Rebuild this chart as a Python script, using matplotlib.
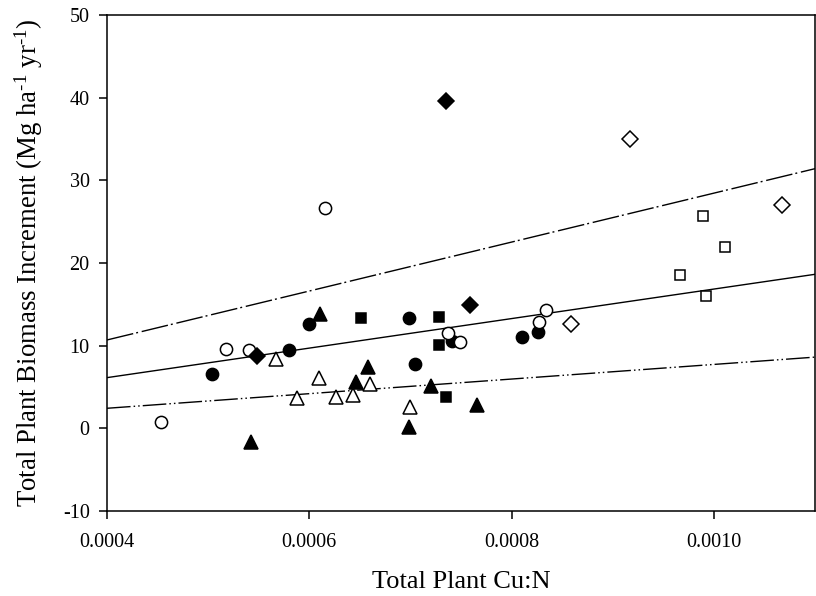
import numpy as np
import matplotlib
matplotlib.use("Agg")
import matplotlib.pyplot as plt

plt.rcParams['font.family'] = ['Liberation Serif', 'DejaVu Serif']
plt.rcParams['mathtext.fontset'] = 'custom'
plt.rcParams['mathtext.rm'] = 'Liberation Serif'
plt.rcParams['mathtext.it'] = 'Liberation Serif:italic'
plt.rcParams['axes.unicode_minus'] = False

# ---- data ----
filled_circle_x = [0.000504, 0.000580, 0.000600, 0.000699, 0.000705, 0.000741, 0.000810, 0.000826]
filled_circle_y = [6.6, 9.45, 12.6, 13.3, 7.8, 10.6, 11.1, 11.6]

open_circle_x = [0.000453, 0.000518, 0.000540, 0.000616, 0.000737, 0.000749, 0.000827, 0.000834]
open_circle_y = [0.75, 9.6, 9.5, 26.6, 11.5, 10.4, 12.9, 14.3]

filled_square_x = [0.000651, 0.000728, 0.000728, 0.000735]
filled_square_y = [13.3, 13.5, 10.05, 3.8]

open_square_x = [0.000989, 0.001011, 0.000967, 0.000992]
open_square_y = [25.7, 21.9, 18.5, 16.0]

filled_diamond_x = [0.000735, 0.000548, 0.000759]
filled_diamond_y = [39.55, 8.7, 14.9]

open_diamond_x = [0.000917, 0.001067, 0.000859]
open_diamond_y = [35.0, 27.0, 12.6]

filled_triangle_x = [0.000542, 0.000611, 0.000658, 0.000646, 0.000720, 0.000699, 0.000766]
filled_triangle_y = [-1.7, 13.8, 7.45, 5.6, 5.1, 0.2, 2.8]

open_triangle_x = [0.000567, 0.000588, 0.000610, 0.000626, 0.000643, 0.000660, 0.000700]
open_triangle_y = [8.35, 3.7, 6.05, 3.8, 4.0, 5.35, 2.6]

# fitted lines: intercept, slope
line_names = ['upper', 'fit', 'lower']
line_intercepts = [-1.15, -1.01, -1.11]
line_slopes = [29600.0, 17857.0, 8840.0]

x_ticks = [0.0004, 0.0006, 0.0008, 0.0010]
x_tick_labels = ['0.0004', '0.0006', '0.0008', '0.0010']
y_ticks = [-10, 0, 10, 20, 30, 40, 50]

# ---- figure ----
fig = plt.figure(figsize=(8.16, 5.96), dpi=100)
ax = fig.add_axes([107/816, 85/596, 708/816, 496/596])

xl = np.array([0.0004, 0.0011])
styles = {
    'upper': (0, (19.4, 2.2, 1.4, 2.7)),
    'fit': '-',
    'lower': (0, (17.0, 2.2, 1.1, 2.2, 1.1, 2.2)),
}
for name, b0, b1 in zip(line_names, line_intercepts, line_slopes):
    ax.plot(xl, b0 + b1 * xl, color='black', lw=1.0, linestyle=styles[name], zorder=2)

ms = 8.8
ew = 1.1
ax.plot(filled_circle_x, filled_circle_y, 'o', ms=ms, mfc='black', mec='black', mew=ew, zorder=3)
ax.plot(open_circle_x, open_circle_y, 'o', ms=ms, mfc='white', mec='black', mew=ew, zorder=3)
ax.plot(filled_square_x, filled_square_y, 's', ms=7.9, mfc='black', mec='black', mew=ew, zorder=3)
ax.plot(open_square_x, open_square_y, 's', ms=7.6, mfc='white', mec='black', mew=ew, zorder=3)
ax.plot(filled_diamond_x, filled_diamond_y, 'D', ms=8.0, mfc='black', mec='black', mew=ew, zorder=3)
ax.plot(open_diamond_x, open_diamond_y, 'D', ms=8.0, mfc='white', mec='black', mew=ew, zorder=3)
ax.plot(filled_triangle_x, filled_triangle_y, '^', ms=9.4, mfc='black', mec='black', mew=ew, zorder=3)
ax.plot(open_triangle_x, open_triangle_y, '^', ms=9.4, mfc='white', mec='black', mew=ew, zorder=3)

ax.set_xlim(0.0004, 0.0011)
ax.set_ylim(-10, 50)
ax.set_xticks(x_ticks)
ax.set_xticklabels(x_tick_labels)
ax.set_yticks(y_ticks)
ax.tick_params(axis='both', direction='out', length=5.5, width=1.1, labelsize=14.5, top=False, right=False)
ax.tick_params(axis='x', pad=10)
ax.tick_params(axis='y', pad=7)
for sp in ax.spines.values():
    sp.set_linewidth(1.1)

ax.set_xlabel('Total Plant Cu:N', fontsize=19, labelpad=14)
ax.set_ylabel(r'Total Plant Biomass Increment (Mg ha$^{\text{-}1}$ yr$^{\text{-}1}$)', fontsize=19.3, labelpad=12.5)

fig.savefig('out.png', dpi=100)
